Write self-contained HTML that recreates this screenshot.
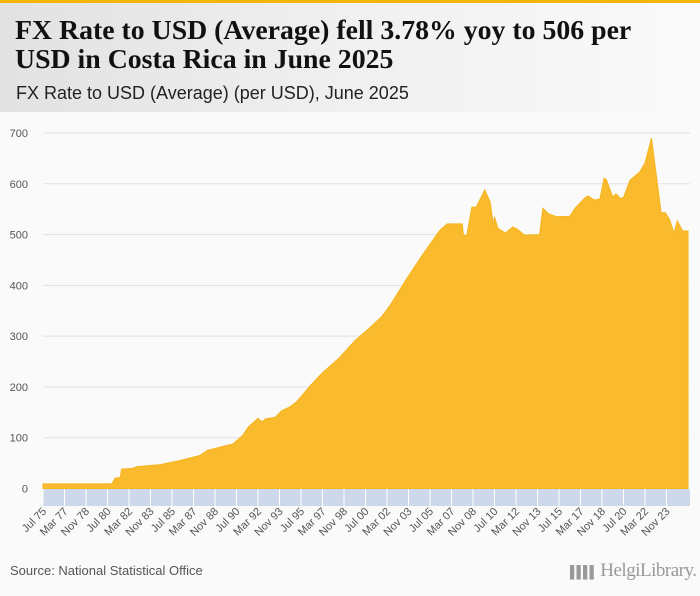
<!DOCTYPE html>
<html><head><meta charset="utf-8">
<style>
html,body{margin:0;padding:0;}
body{width:700px;height:596px;background:#fafafa;position:relative;overflow:hidden;font-family:"Liberation Sans",sans-serif;}
#topbar{position:absolute;left:0;top:0;width:700px;height:3px;background:#f7b500;}
#header{position:absolute;left:0;top:3px;width:700px;height:109px;background:linear-gradient(90deg,#e2e2e2 0%,#f0f0f0 50%,#fafafa 100%);}
#title{position:absolute;left:15px;top:13px;font-family:"Liberation Serif",serif;font-weight:bold;font-size:27.8px;line-height:29px;color:#111;margin:0;white-space:nowrap;}
#subtitle{position:absolute;left:16px;top:80px;font-size:18px;color:#222;}
#source{position:absolute;left:10px;top:563px;font-size:13px;color:#555;}
#logo{position:absolute;left:570px;top:560px;font-family:"Liberation Serif",serif;font-size:19px;color:#999;letter-spacing:-0.5px;white-space:nowrap;}
</style></head>
<body>
<div id="topbar"></div>
<div id="header">
<h1 id="title">FX Rate to USD (Average) fell 3.78% yoy to 506 per<br>USD in Costa Rica in June 2025</h1>
<div id="subtitle">FX Rate to USD (Average) (per USD), June 2025</div>
</div>
<svg id="chart" width="700" height="596" style="position:absolute;left:0;top:0" xmlns="http://www.w3.org/2000/svg"></svg>
<div id="source">Source: National Statistical Office</div>
<div id="logo"><span style="font-size:12px;letter-spacing:-2px">▌▌▌▌</span> HelgiLibrary.</div>
<script>
// months since Jul 1975
const months = [0,64,67,72,73,84,87,109,127,146,153,162,177,186,191,200,204,207,216,222,230,236,248,260,276,290,301,315,323,339,353,369,376,390,391,394,399,403,411,416,419,420,423,430,437,441,448,462,465,470,478,490,495,504,507,513,518,522,524,530,533,537,540,546,555,560,566,575,579,583,587,590,595,600];
const values = [9,9,20,22,38,40,43,47,55,65,75,80,88,105,121,138,131,137,140,153,161,171,201,228,258,291,311,338,361,415,460,508,521,521,500,497,554,554,588,564,517,535,513,503,515,511,499,500,552,541,535,536,552,572,576,568,570,611,608,574,580,571,573,607,623,641,690,543,543,529,503,527,507,507];
const yTicks = [0,100,200,300,400,500,600,700];
const xLabels = ["Jul 75","Mar 77","Nov 78","Jul 80","Mar 82","Nov 83","Jul 85","Mar 87","Nov 88","Jul 90","Mar 92","Nov 93","Jul 95","Mar 97","Nov 98","Jul 00","Mar 02","Nov 03","Jul 05","Mar 07","Nov 08","Jul 10","Mar 12","Nov 13","Jul 15","Mar 17","Nov 18","Jul 20","Mar 22","Nov 23"];
const labelStep = 20;

const NS="http://www.w3.org/2000/svg";
const svg=document.getElementById('chart');
const x0=43,x1=688,y0=488.5,y700=133;
const xs=m=>x0+(x1-x0)*m/600;
const ys=v=>y0-(y0-y700)*v/700;
function mk(tag,attrs){const e=document.createElementNS(NS,tag);for(const k in attrs)e.setAttribute(k,attrs[k]);svg.appendChild(e);return e;}

yTicks.forEach(t=>{
  if(t>0){const l=mk('line',{x1:43,x2:690,y1:ys(t),y2:ys(t),stroke:'#e2e2e2','stroke-width':1});
  
  }
  const tx=mk('text',{x:28,y:ys(t)+4,'text-anchor':'end','font-size':11,fill:'#555','font-family':'Liberation Sans, sans-serif'});
  tx.textContent=t;
  
  
});

let d='M'+xs(months[0])+','+y0;
months.forEach((m,i)=>{d+=' L'+xs(m).toFixed(1)+','+ys(values[i]).toFixed(1);});
d+=' L'+xs(months[months.length-1])+','+y0+' Z';
const area=mk('path',{d:d,fill:'#f9bb2d',stroke:'#f6b41f','stroke-width':1});



const band=mk('rect',{x:43,y:489,width:647,height:17,fill:'#cdd8ea'});


xLabels.forEach((lab,i)=>{
  const px=xs(i*labelStep);
  const tk=mk('line',{x1:px,x2:px,y1:489,y2:506,stroke:'#fff','stroke-width':1});
  
  
  const t=mk('text',{x:px+4,y:512,'text-anchor':'end','font-size':11,fill:'#555','font-family':'Liberation Sans, sans-serif',transform:'rotate(-45 '+(px+4)+' 512)'});
  t.textContent=lab;
  
  
});
</script>
</body></html>
